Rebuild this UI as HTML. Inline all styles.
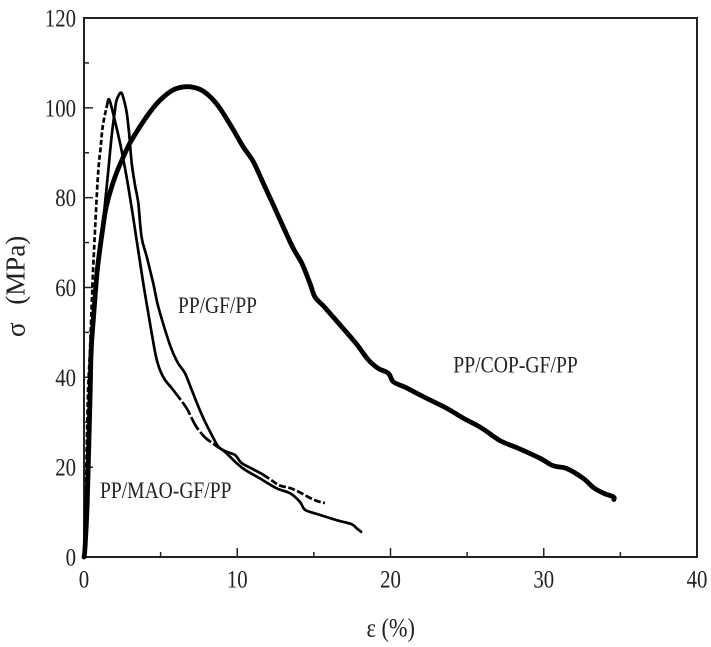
<!DOCTYPE html>
<html>
<head>
<meta charset="utf-8">
<title>Stress-strain curves</title>
<style>
html,body{margin:0;padding:0;background:#fff;width:711px;height:647px;overflow:hidden}
svg{display:block;filter:blur(0.35px)}
text{font-family:"Liberation Serif",serif;fill:#222}
</style>
</head>
<body>
<svg id="chart" width="711" height="647" viewBox="0 0 711 647"></svg>
<script>
const xTickLabels = [0, 10, 20, 30, 40];
const yTickLabels = [0, 20, 40, 60, 80, 100, 120];
const xMinorTicks = [5, 15, 25, 35];
const yMinorTicks = [10, 30, 50, 70, 90, 110];

const copStrain = [0,0.065,0.215,0.39,0.47,0.61,0.87,1.26,1.48,2.02,2.56,3,3.65,4.31,4.96,5.83,6.7,7.57,8.22,8.87,9.74,10.39,11.05,11.7,12.35,13,13.66,14.21,14.75,15.07,15.62,16.27,17.03,17.79,18.55,19.2,19.86,20.18,20.95,22.14,23.67,24.75,25.95,27.15,28.34,29.75,30.62,31.5,32.58,33.23,33.89,34.54,34.58];
const copStress = [0,2,12.7,35,46,52.8,63.9,74,78.4,84.6,89,92.2,95.8,99.1,101.7,104,104.7,104.1,102.5,99.9,95.1,91.3,88,83.2,78.4,73.5,68.7,65.4,60.9,57.9,55.9,53.4,50.4,47.4,43.9,42,40.9,39,37.8,35.7,33.1,30.9,28.7,25.9,24.2,22,20.3,19.7,17.5,15.5,14.2,13.4,12.8];

const gfStrain = [0,0.2,0.4,0.7,0.91,1.26,1.59,1.8,2.02,2.13,2.41,2.61,2.79,2.94,3.11,3.33,3.54,3.76,4.09,4.52,4.85,5.5,5.83,6.15,6.59,7.03,7.46,7.9,8.33,8.76,9.2,9.96,10.51,11.48,12.57,13.44,14.09,14.42,15.18,16.49,17.47,17.79,18.08];
const gfStress = [0,20,42,56,63.9,75,86.2,93.6,99.5,101.7,103.4,101.7,98.8,94.4,87.7,82.8,78.8,71.2,66.9,60.9,55.7,48.3,45.3,43.1,40.9,37.2,33.5,30.1,27.2,24.6,23.4,20.9,19.4,17.5,15.3,14.2,12.3,10.5,9.6,8.2,7.3,6.4,5.6];

const maoStrain = [0,0.1,0.25,0.39,0.5,0.61,0.78,0.93,1.08,1.22,1.48,1.65,2,2.35,2.78,3.1,3.43,3.87,4.42,4.7,4.96,5.29,5.72,6.15,6.7,7.03,7.35,7.9,8.33,8.87,9.31,9.85,10.29,10.94,11.7,12.35,12.79,13.66,14.96,15.72];
const maoStress = [0,12,35,46,56,65,77,86,91,95.8,100.2,101.8,97.3,92.2,84.6,78,70.6,60.9,49.8,44.6,41.6,39.4,37.6,35.7,33.1,30.9,28.9,26.6,25.5,24.2,23.4,22.7,20.9,19.7,18.3,16.8,15.9,15.1,12.8,12];
const maoDashedRanges = [[0,1.25],[5.7,8.4],[11.6,16]];

const X0 = 84, X1 = 697, Y0 = 557, Y1 = 18;
const INK = '#222';
const NS = 'http://www.w3.org/2000/svg';
const svg = document.getElementById('chart');
const dashPatterns = ['5 2.5', '15 2.5', '7 2.5'];

function sx(v){ return X0 + (v / 40) * (X1 - X0); }
function sy(v){ return Y0 - (v / 120) * (Y0 - Y1); }

function make(tag, attrs, parent){
  const el = document.createElementNS(NS, tag);
  for (const k in attrs) el.setAttribute(k, attrs[k]);
  (parent || svg).appendChild(el);
  return el;
}
/* Smooth Catmull-Rom path through points [from..to] of the data arrays */
function pathFrom(xs, ys, from, to){
  const a = from === undefined ? 0 : from;
  const b = to === undefined ? xs.length - 1 : to;
  const P = i => {
    const j = Math.max(0, Math.min(xs.length - 1, i));
    return [sx(xs[j]), sy(ys[j])];
  };
  let d = 'M' + P(a)[0].toFixed(1) + ' ' + P(a)[1].toFixed(1);
  for (let i = a; i < b; i++) {
    const p0 = P(i - 1), p1 = P(i), p2 = P(i + 1), p3 = P(i + 2);
    const c1 = [p1[0] + (p2[0] - p0[0]) / 6, p1[1] + (p2[1] - p0[1]) / 6];
    const c2 = [p2[0] - (p3[0] - p1[0]) / 6, p2[1] - (p3[1] - p1[1]) / 6];
    d += ' C' + c1[0].toFixed(1) + ' ' + c1[1].toFixed(1) + ' ' + c2[0].toFixed(1) + ' ' + c2[1].toFixed(1) + ' ' + p2[0].toFixed(1) + ' ' + p2[1].toFixed(1);
  }
  return d;
}

const frame = make('rect', {x: X0, y: Y1, width: X1 - X0, height: Y0 - Y1, fill: 'none', stroke: INK, 'stroke-width': 2});



function tickText(v){ return {textLength: String(v).length * 10.4, lengthAdjust: 'spacingAndGlyphs'}; }

xTickLabels.forEach(v => {
  const tick = make('line', {x1: sx(v), x2: sx(v), y1: Y0, y2: Y0 - 9, stroke: INK, 'stroke-width': 1.5});
  
  
  const label = make('text', Object.assign({x: sx(v) - String(v).length * 5.2, y: 587.5, 'font-size': 25}, tickText(v)));
  label.textContent = v;
  
  
});
xMinorTicks.forEach(v => {
  const tick = make('line', {x1: sx(v), x2: sx(v), y1: Y0, y2: Y0 - 5, stroke: INK, 'stroke-width': 1.5});
  
  
});
yTickLabels.forEach(v => {
  const tick = make('line', {x1: X0, x2: X0 + 9, y1: sy(v), y2: sy(v), stroke: INK, 'stroke-width': 1.5});
  
  
  const label = make('text', Object.assign({x: 76 - String(v).length * 10.4, y: sy(v) + 8.5, 'font-size': 25}, tickText(v)));
  label.textContent = v;
  
  
});
yMinorTicks.forEach(v => {
  const tick = make('line', {x1: X0, x2: X0 + 5, y1: sy(v), y2: sy(v), stroke: INK, 'stroke-width': 1.5});
  
  
});

const curveStyle = {fill: 'none', stroke: '#000', 'stroke-linejoin': 'round', 'stroke-linecap': 'round'};

function dashIndex(x){
  return maoDashedRanges.findIndex(r => x >= r[0] && x < r[1]);
}
let segStart = 0;
for (let i = 1; i < maoStrain.length; i++) {
  const last = i === maoStrain.length - 1;
  const cur = dashIndex(maoStrain[segStart]);
  if (last || dashIndex(maoStrain[i]) !== cur) {
    const seg = make('path', Object.assign({}, curveStyle, {
      d: pathFrom(maoStrain, maoStress, segStart, i),
      'stroke-width': 2.7,
      'stroke-linecap': cur >= 0 ? 'butt' : 'round',
      'stroke-dasharray': cur >= 0 ? dashPatterns[cur % dashPatterns.length] : 'none'
    }));
    
    
    segStart = i;
  }
}

const gfLine = make('path', Object.assign({}, curveStyle, {d: pathFrom(gfStrain, gfStress), 'stroke-width': 2.7}));



const copLine = make('path', Object.assign({}, curveStyle, {d: pathFrom(copStrain, copStress), 'stroke-width': 4.8}));



const gfLabel = make('text', {x: 178, y: 313, 'font-size': 23, textLength: 79, lengthAdjust: 'spacingAndGlyphs'});
gfLabel.textContent = 'PP/GF/PP';



const copLabel = make('text', {x: 453.3, y: 372.5, 'font-size': 23, textLength: 124.5, lengthAdjust: 'spacingAndGlyphs'});
copLabel.textContent = 'PP/COP-GF/PP';



const maoLabel = make('text', {x: 100, y: 498, 'font-size': 23, textLength: 131.5, lengthAdjust: 'spacingAndGlyphs'});
maoLabel.textContent = 'PP/MAO-GF/PP';



const xTitle = make('text', {x: 366.5, y: 636.5, 'font-size': 26, textLength: 48.5, lengthAdjust: 'spacingAndGlyphs'});
xTitle.textContent = 'ε (%)';



const yTitle = make('text', {x: 0, y: 0, 'font-size': 27, 'word-spacing': 11, transform: 'translate(24.5 337) rotate(-90)'});
yTitle.textContent = 'σ (MPa)';


</script>
</body>
</html>
